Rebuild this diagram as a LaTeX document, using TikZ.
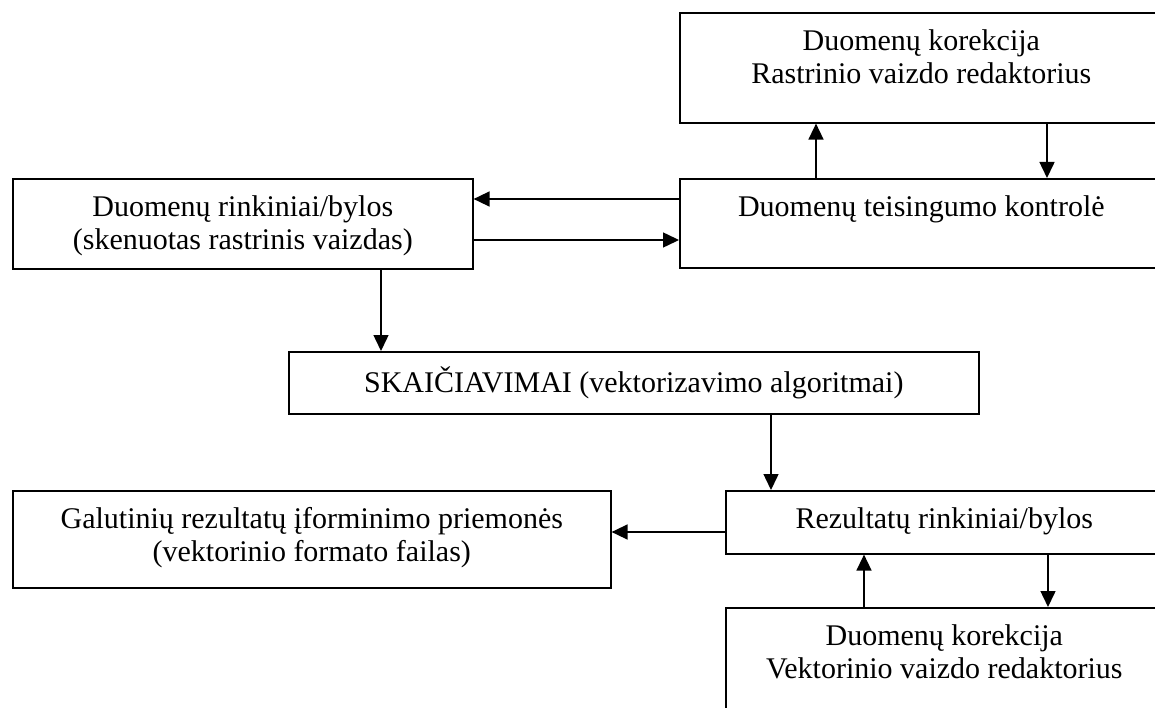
\documentclass[tikz,border=0pt]{standalone}
\usepackage{fontspec}
\setmainfont{Liberation Serif}
\usetikzlibrary{arrows.meta}

% text block inside a box: lines centred, first baseline 38pt below the top edge
\newcommand{\boxlines}[3]{\parbox[c][#2][t]{#1}{\centering\vspace*{14.9pt}\strut #3\par}}

\begin{document}
\begin{tikzpicture}[x=1pt,y=-1pt,
  box/.style={draw, line width=1.6pt, inner sep=0pt, anchor=north west,
              font=\fontsize{30}{33}\selectfont},
  arr/.style={line width=1.5pt, -{Triangle[length=16pt,width=15pt]}}]
\useasboundingbox (0,0) rectangle (1155,708);
\clip (0,0) rectangle (1155,708);

% boxes
\node[box] (kr)   at (679,12)  {\boxlines{483pt}{110pt}{Duomenų korekcija\\Rastrinio vaizdo redaktorius}};
\node[box] (src)  at (12,178)  {\boxlines{460pt}{90pt}{Duomenų rinkiniai/bylos\\(skenuotas rastrinis vaizdas)}};
\node[box] (chk)  at (679,178) {\boxlines{483pt}{89pt}{Duomenų teisingumo kontrolė}};
\node[box] (calc) at (288,351) {\boxlines{690pt}{62pt}{SKAIČIAVIMAI (vektorizavimo algoritmai)}};
\node[box] (fin)  at (12,490)  {\boxlines{598pt}{97pt}{Galutinių rezultatų įforminimo priemonės\\(vektorinio formato failas)}};
\node[box] (res)  at (725,490) {\boxlines{437pt}{63pt}{Rezultatų rinkiniai/bylos}};
\node[box] (vkr)  at (725,607) {\boxlines{437pt}{110pt}{Duomenų korekcija\\Vektorinio vaizdo redaktorius}};

% connector guides
\coordinate (up1)   at (816,0);
\coordinate (dn1)   at (1047,0);
\coordinate (back)  at (0,199);
\coordinate (fwd)   at (0,240);
\coordinate (dsrc)  at (381,0);
\coordinate (dcalc) at (771,0);
\coordinate (out)   at (0,532);
\coordinate (up2)   at (864,0);
\coordinate (dn2)   at (1048,0);

% connectors
\draw[arr] (chk.north -| up1) -- (kr.south -| up1);
\draw[arr] (kr.south -| dn1) -- (chk.north -| dn1);
\draw[arr] (chk.west |- back) -- (src.east |- back);
\draw[arr] (src.east |- fwd) -- (chk.west |- fwd);
\draw[arr] (src.south -| dsrc) -- (calc.north -| dsrc);
\draw[arr] (calc.south -| dcalc) -- (res.north -| dcalc);
\draw[arr] (res.west |- out) -- (fin.east |- out);
\draw[arr] (vkr.north -| up2) -- (res.south -| up2);
\draw[arr] (res.south -| dn2) -- (vkr.north -| dn2);
\end{tikzpicture}
\end{document}
